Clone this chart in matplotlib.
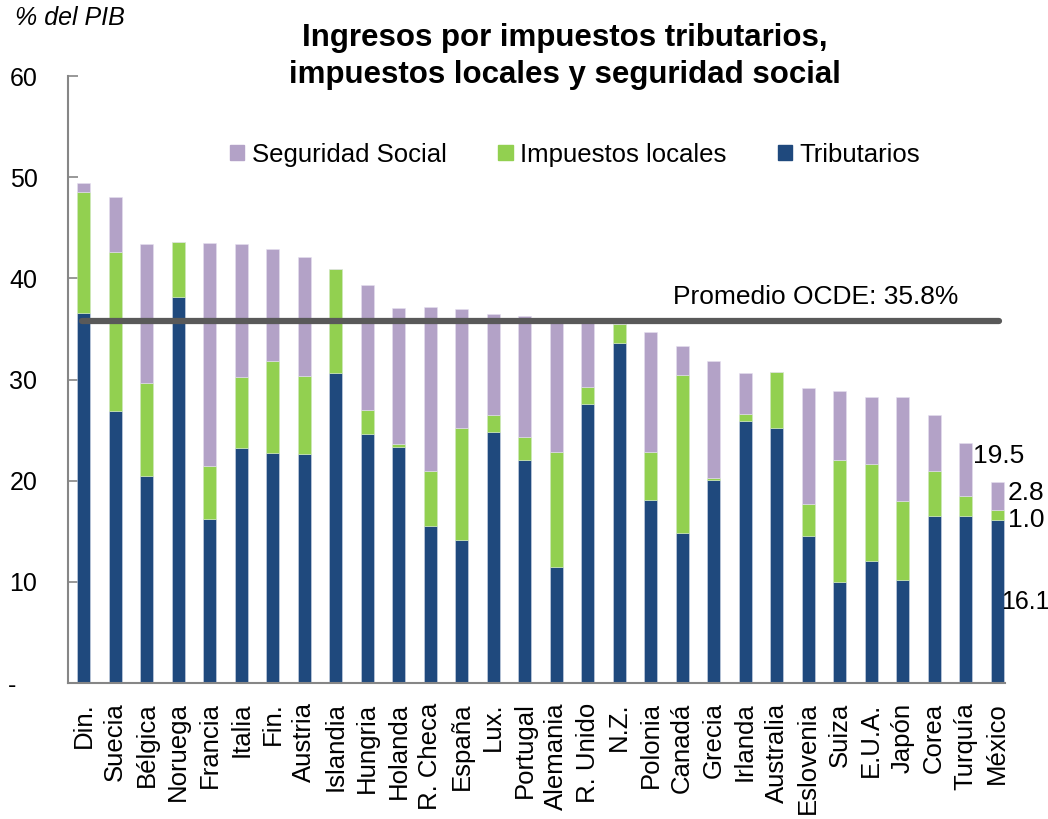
import numpy as np
import matplotlib.pyplot as plt
from matplotlib.patches import Patch

plt.rcParams['font.family'] = ['Liberation Sans', 'DejaVu Sans']

paises = ['Din.', 'Suecia', 'Bélgica', 'Noruega', 'Francia', 'Italia', 'Fin.',
          'Austria', 'Islandia', 'Hungria', 'Holanda', 'R. Checa', 'España',
          'Lux.', 'Portugal', 'Alemania', 'R. Unido', 'N.Z.', 'Polonia',
          'Canadá', 'Grecia', 'Irlanda', 'Australia', 'Eslovenia', 'Suiza',
          'E.U.A.', 'Japón', 'Corea', 'Turquía', 'México']
tributarios = [36.6, 26.9, 20.5, 38.2, 16.2, 23.2, 22.7, 22.6, 30.7, 24.6,
               23.3, 15.5, 14.1, 24.8, 22.1, 11.5, 27.6, 33.6, 18.1, 14.8,
               20.1, 25.9, 25.2, 14.5, 10.0, 12.1, 10.2, 16.5, 16.5, 16.1]
locales = [11.9, 15.7, 9.2, 5.4, 5.3, 7.1, 9.1, 7.8, 10.2, 2.4,
           0.3, 5.5, 11.1, 1.7, 2.2, 11.3, 1.7, 1.9, 4.7, 15.7,
           0.2, 0.7, 5.6, 3.2, 12.1, 9.6, 7.8, 4.5, 2.0, 1.0]
seguridad = [0.9, 5.5, 13.7, 0.0, 22.0, 13.1, 11.1, 11.7, 0.0, 12.4,
             13.5, 16.2, 11.8, 10.0, 12.0, 13.2, 6.5, 0.0, 11.9, 2.8,
             11.5, 4.1, 0.0, 11.5, 6.8, 6.6, 10.3, 5.5, 5.2, 2.8]
promedio = 35.8

c_trib = '#1F497D'
c_loc = '#92D050'
c_ss = '#B3A2C7'

x = np.arange(len(paises))
trib = np.array(tributarios)
loc = np.array(locales)
ss = np.array(seguridad)

fig = plt.figure(figsize=(10.48, 8.19), dpi=100)
ax = fig.add_axes([0.0649, 0.166, 0.894, 0.741])

w = 0.41
ax.bar(x, trib, w, color=c_trib, edgecolor='#D0D8E8', linewidth=0.4, zorder=2)
ax.bar(x, loc, w, bottom=trib, color=c_loc, edgecolor='#D0E8C0', linewidth=0.4, zorder=2)
ax.bar(x, ss, w, bottom=trib + loc, color=c_ss, edgecolor='#E6E0F0', linewidth=0.4, zorder=2)

ax.plot([-0.06, 29.06], [promedio, promedio], color='#595959', linewidth=4.5,
        solid_capstyle='round', zorder=3)
ax.text(23.25, 38.2, 'Promedio OCDE: %.1f%%' % promedio, fontsize=19,
        ha='center', va='center')

# etiquetas de México
n = len(paises) - 1
ax.text(n - 0.75, 22.4, '19.5', fontsize=19, ha='left', va='center')
ax.text(n + 0.35, 18.8, '%.1f' % seguridad[n], fontsize=19, ha='left', va='center')
ax.text(n + 0.35, 16.1, '%.1f' % locales[n], fontsize=19, ha='left', va='center')
ax.text(n + 0.12, 8.0, '%.1f' % tributarios[n], fontsize=18, ha='left', va='center')

ax.set_xlim(-0.5, 29.25)
ax.set_ylim(0, 60)
ax.set_yticks([0, 10, 20, 30, 40, 50, 60])
ax.set_yticklabels(['-   ', '10', '20', '30', '40', '50', '60'], fontsize=18)
ax.tick_params(axis='y', direction='in', length=7, width=1.2, color='#868686', pad=22)
ax.set_xticks(x)
ax.set_xticklabels(paises, rotation=90, fontsize=18.5, va='top')
ax.tick_params(axis='x', length=0, pad=14)
for s in ['top', 'right']:
    ax.spines[s].set_visible(False)
for s in ['left', 'bottom']:
    ax.spines[s].set_color('#868686')
    ax.spines[s].set_linewidth(1.5)

fig.text(0.539, 0.954, 'Ingresos por impuestos tributarios,', fontsize=22.5,
         fontweight='bold', ha='center', va='center')
fig.text(0.539, 0.909, 'impuestos locales y seguridad social', fontsize=22.5,
         fontweight='bold', ha='center', va='center')
fig.text(0.014, 0.978, '% del PIB', fontsize=18, style='italic', ha='left', va='center')

handles = [Patch(color=c_ss), Patch(color=c_loc), Patch(color=c_trib)]
fig.legend(handles, ['Seguridad Social', 'Impuestos locales', 'Tributarios'],
           loc='center', bbox_to_anchor=(0.549, 0.811), ncol=3, frameon=False,
           fontsize=18.5, handlelength=0.55, handleheight=0.55, handletextpad=0.3,
           columnspacing=2.0)

fig.savefig('out.png', dpi=100)
